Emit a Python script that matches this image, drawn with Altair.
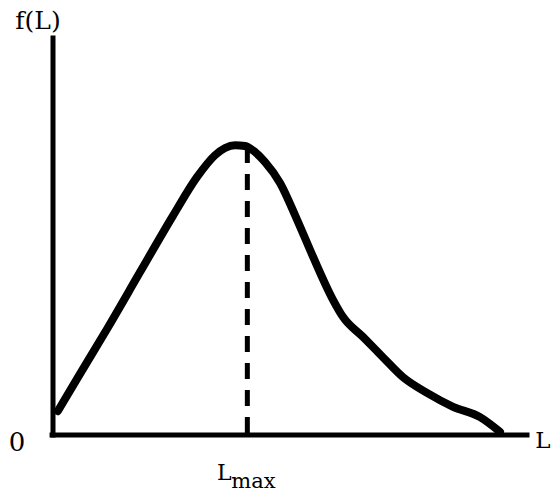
import altair as alt
import pandas as pd

# Distribution curve f(L) over L (both axes on an arbitrary 0-100 scale)
L_VALUES = [1.0, 5.7, 11.4, 18.4, 25.3, 30.4, 34.2, 36.3, 38.4, 40.5, 42.6, 44.7,
            47.9, 51.5, 54.9, 59.1, 61.2, 65.4, 69.6, 73.8, 78.9, 84.4, 90.1, 94.3]
F_VALUES = [6.0, 15.4, 26.7, 41.1, 55.2, 65.0, 70.5, 72.3, 73.0, 72.8, 71.3, 68.8,
            63.5, 54.2, 44.8, 34.0, 29.7, 24.7, 19.6, 14.6, 10.6, 7.1, 4.5, 0.8]

# Position of the maximum and the height of the dashed marker there
L_MAX = 41.0
F_AT_MAX = 72.0

FONT = "DejaVu Serif"
INK = "black"

x_scale = alt.Scale(domain=[0, 100], nice=False, zero=False)
y_scale = alt.Scale(domain=[0, 100], nice=False, zero=False)

curve_df = pd.DataFrame({"L": L_VALUES, "f": F_VALUES})

curve = alt.Chart(curve_df).mark_line(
    color=INK, strokeWidth=8, strokeCap="round", strokeJoin="round",
    interpolate="monotone",
).encode(
    x=alt.X("L:Q", scale=x_scale, axis=None),
    y=alt.Y("f:Q", scale=y_scale, axis=None),
)

# Axis lines drawn as rules
axes_df = pd.DataFrame({
    "x": [0.0, -0.2], "x2": [0.0, 100.0],
    "y": [0.0, 0.0], "y2": [100.0, 0.0],
})
axes = alt.Chart(axes_df).mark_rule(color=INK, strokeWidth=5, strokeCap="square").encode(
    x=alt.X("x:Q", scale=x_scale, axis=None),
    x2="x2:Q",
    y=alt.Y("y:Q", scale=y_scale, axis=None),
    y2="y2:Q",
)

# Dashed marker at L_max
marker_df = pd.DataFrame({"L": [L_MAX], "f0": [0.5], "f1": [F_AT_MAX]})
marker = alt.Chart(marker_df).mark_rule(
    color=INK, strokeWidth=5, strokeDash=[16, 11],
).encode(
    x=alt.X("L:Q", scale=x_scale, axis=None),
    y=alt.Y("f0:Q", scale=y_scale, axis=None),
    y2="f1:Q",
)

def label(text, x, y, size=22, align="center"):
    return alt.Chart(pd.DataFrame({"t": [text]})).mark_text(
        font=FONT, fontSize=size, color=INK, align=align, baseline="alphabetic",
    ).encode(x=alt.value(x), y=alt.value(y), text="t:N")

y_title = label("f(L)", -15, -9, size=25)
origin = label("0", -36, 413, size=26)
x_title = label("L", 490, 410, size=23)

lmax_df = pd.DataFrame({"L": [L_MAX], "main": ["L"], "sub": ["max"]})
lmax_main = alt.Chart(lmax_df).mark_text(
    font=FONT, fontSize=22, color=INK, align="center", baseline="alphabetic", dx=-23,
).encode(x=alt.X("L:Q", scale=x_scale, axis=None), y=alt.value(442), text="main:N")
lmax_sub = alt.Chart(lmax_df).mark_text(
    font=FONT, fontSize=21, color=INK, align="left", baseline="alphabetic", dx=-16,
).encode(x=alt.X("L:Q", scale=x_scale, axis=None), y=alt.value(450), text="sub:N")

chart = alt.layer(
    axes, marker, curve, y_title, origin, x_title, lmax_main, lmax_sub,
).properties(
    width=474, height=397,
    autosize=alt.AutoSizeParams(type="none"),
    padding={"left": 53, "top": 38, "right": 24, "bottom": 62},
    background="white",
).configure_view(stroke=None)

chart.save("out.html", embed_options={"renderer": "svg", "actions": False})
